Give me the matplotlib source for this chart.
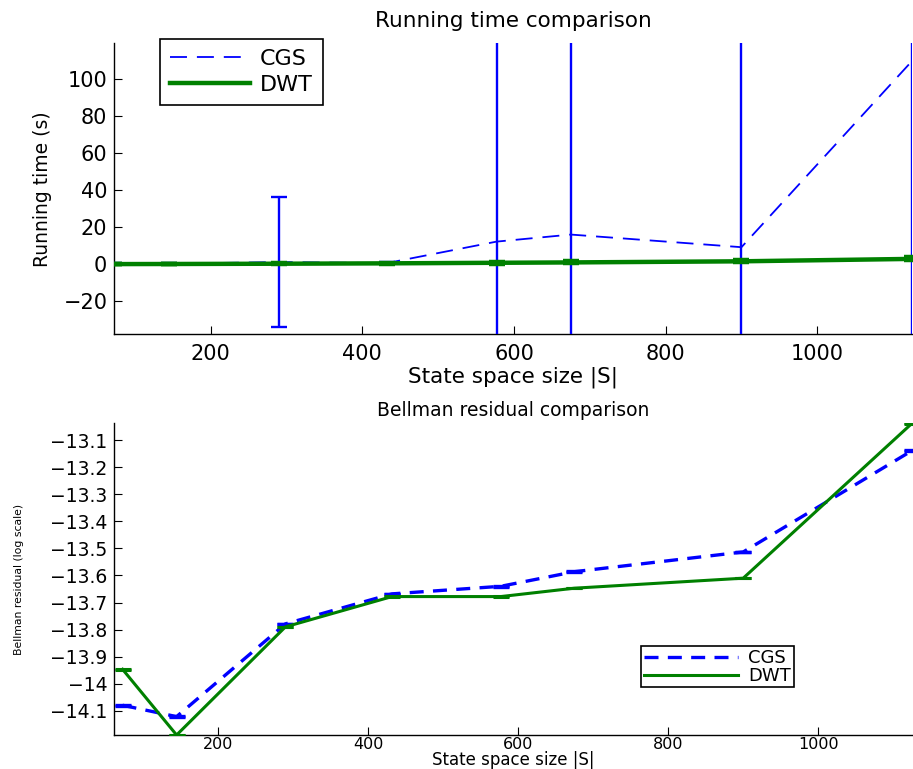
import matplotlib
matplotlib.use("Agg")
import matplotlib.pyplot as plt
from matplotlib.ticker import FuncFormatter

# state space sizes |S|
sizes = [73, 145, 290, 432, 577, 675, 900, 1125]

# running time (s)
cgs_time = [0.2, 0.3, 1.2, 0.6, 12.2, 16.0, 9.2, 109.5]
cgs_time_err = [0.3, 0.4, 35.0, 0.6, 200.0, 200.0, 200.0, 200.0]
dwt_time = [0.1, 0.15, 0.3, 0.5, 0.8, 1.0, 1.6, 2.9]
dwt_time_err = [0.2, 0.2, 0.3, 0.3, 0.5, 0.5, 0.6, 0.8]

# Bellman residual (log scale)
cgs_res = [-14.08, -14.122, -13.779, -13.668, -13.640, -13.586, -13.513, -13.138]
dwt_res = [-13.947, -14.19, -13.79, -13.678, -13.678, -13.647, -13.610, -13.037]
res_err = [0.001] * 8

BLUE = "#0000ff"
GREEN = "#008000"

plt.rcParams["font.family"] = ["DejaVu Sans"]

fig = plt.figure(figsize=(9.13, 7.69), dpi=100)
ax1 = fig.add_axes([0.1252, 0.5653, 0.8738, 0.3784])
ax2 = fig.add_axes([0.1252, 0.0442, 0.8738, 0.4054])

for ax in (ax1, ax2):
    ax.spines["top"].set_visible(False)
    ax.spines["right"].set_visible(False)
    ax.spines["left"].set_linewidth(1.0)
    ax.spines["bottom"].set_linewidth(1.0)
    ax.tick_params(direction="in", length=6, width=0.8)

# --- top: running time
l_cgs, = ax1.plot(sizes, cgs_time, color=BLUE, lw=1.3, linestyle=(0, (9.4, 5.5)),
                  label="CGS", zorder=3)
ax1.errorbar(sizes, cgs_time, yerr=cgs_time_err, fmt="none", ecolor=BLUE,
             elinewidth=1.7, capsize=5.5, capthick=1.7, zorder=3)
l_dwt, = ax1.plot(sizes, dwt_time, color=GREEN, lw=3.2, label="DWT", zorder=4)
ax1.errorbar(sizes, dwt_time, yerr=dwt_time_err, fmt="none", ecolor=GREEN,
             elinewidth=3.2, capsize=5.5, capthick=3.2, zorder=4)

ax1.set_xlim(73, 1125)
ax1.set_ylim(-37.7, 119)
ax1.set_xticks([200, 400, 600, 800, 1000])
ax1.set_yticks([-20, 0, 20, 40, 60, 80, 100])
ax1.tick_params(axis="y", labelsize=15, pad=5)
ax1.tick_params(axis="x", labelsize=15, pad=7)
ax1.set_xlabel("State space size |S|", fontsize=15.5)
ax1.xaxis.set_label_coords(0.5, -0.112)
ax1.set_ylabel("Running time (s)", fontsize=13.5)
ax1.yaxis.set_label_coords(-0.078, 0.5)
ax1.set_title("Running time comparison", fontsize=15.5, pad=12)
leg1 = ax1.legend(handles=[l_cgs, l_dwt], loc="upper left",
                  bbox_to_anchor=(0.175, 0.949), bbox_transform=fig.transFigure,
                  fontsize=16, frameon=True, fancybox=False, framealpha=1,
                  edgecolor="black", borderaxespad=0, borderpad=0.45,
                  labelspacing=0.25, handlelength=3.6, handletextpad=0.45)
leg1.get_frame().set_linewidth(1.2)

# --- bottom: Bellman residual
l_cgs2, = ax2.plot(sizes, cgs_res, color=BLUE, lw=2.4, linestyle=(0, (4.2, 2.8)),
                   label="CGS", zorder=3)
ax2.errorbar(sizes, cgs_res, yerr=res_err, fmt="none", ecolor=BLUE,
             elinewidth=2.4, capsize=5.5, capthick=2.4, zorder=3)
l_dwt2, = ax2.plot(sizes, dwt_res, color=GREEN, lw=2.2, label="DWT", zorder=4)
ax2.errorbar(sizes, dwt_res, yerr=res_err, fmt="none", ecolor=GREEN,
             elinewidth=2.2, capsize=5.5, capthick=2.2, zorder=4)

ax2.set_xlim(62, 1125)
ax2.set_ylim(-14.19, -13.037)
ax2.set_xticks([200, 400, 600, 800, 1000])
ax2.set_yticks([-14.1, -14.0, -13.9, -13.8, -13.7, -13.6, -13.5, -13.4,
                -13.3, -13.2, -13.1])
ax2.yaxis.set_major_formatter(FuncFormatter(lambda v, p: ("%g" % round(v, 1)).replace("-", "\u2212")))
ax2.tick_params(axis="y", labelsize=13.5, pad=5)
ax2.tick_params(axis="x", labelsize=11.5, pad=1.5)
ax2.set_xlabel("State space size |S|", fontsize=12)
ax2.xaxis.set_label_coords(0.5, -0.05)
ax2.set_ylabel("Bellman residual (log scale)", fontsize=7.8)
ax2.yaxis.set_label_coords(-0.113, 0.5)
ax2.set_title("Bellman residual comparison", fontsize=13.5, pad=5)
leg2 = ax2.legend(handles=[l_cgs2, l_dwt2], loc="upper left",
                  bbox_to_anchor=(0.702, 0.160), bbox_transform=fig.transFigure,
                  fontsize=13, frameon=True, fancybox=False, framealpha=1,
                  edgecolor="black", borderaxespad=0, borderpad=0.15,
                  labelspacing=0.0, handlelength=5.2, handleheight=0.5,
                  handletextpad=0.6)
leg2.get_frame().set_linewidth(1.2)

fig.savefig("out.png", dpi=100)
